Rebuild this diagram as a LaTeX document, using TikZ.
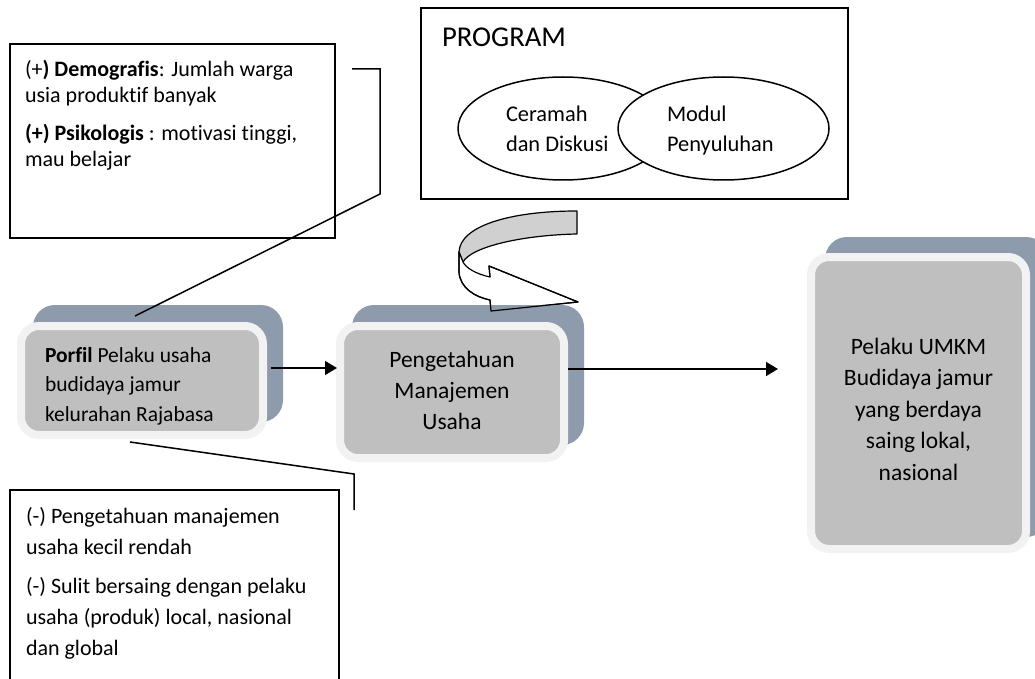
\documentclass[tikz,border=0pt]{standalone}
\usepackage{fontspec}
\setmainfont{Carlito}[Ligatures=NoCommon]
\usetikzlibrary{arrows.meta,calc,shapes.geometric}
\definecolor{slate}{RGB}{142,155,172}
\definecolor{boxgray}{RGB}{191,191,191}
\definecolor{rim}{RGB}{242,242,242}
\definecolor{arrowgray}{RGB}{208,208,208}
\begin{document}
\begin{tikzpicture}[x=1pt,y=-1pt,
  frontbox/.style={rectangle, draw=rim, fill=boxgray, line width=8pt, rounded corners=18pt, inner sep=0pt, outer sep=0pt},
  backbox/.style={rectangle, fill=slate, rounded corners=22pt, inner sep=0pt, outer sep=0pt},
  textframe/.style={rectangle, draw=black, line width=1.5pt, inner sep=0pt, outer sep=0pt},
  link/.style={draw=black, line width=1.5pt},
  arr/.style={link, -{Triangle[length=12pt,width=14pt]}},
  oval/.style={ellipse, draw=black, line width=1.5pt, fill=white, inner sep=0pt, outer sep=0pt},
  txt/.style={inner sep=0pt, outer sep=0pt},
  uturn/.style={line width=1.2pt, line join=round},
]
\useasboundingbox (0,0) rectangle (1035,679);
\fill[white] (0,0) rectangle (1035,679);

% program frame
\node[textframe, minimum width=427pt, minimum height=191pt] (program) at (634.5,103.5) {};
\node[txt, anchor=base west, font=\fontsize{28.7}{34}\selectfont] (programtitle) at (442,47) {PROGRAM};
\node[oval, minimum width=210pt, minimum height=103pt] (ceramah) at (563,128.5) {};
\node[oval, minimum width=211pt, minimum height=103pt] (modul) at (723.5,128.5) {};
\node[txt, anchor=base west, align=left, font=\fontsize{22.4}{30}\selectfont] (ceramahtext) at (506,152) {Ceramah\\dan Diskusi};
\node[txt, anchor=base west, align=left, font=\fontsize{22.4}{30}\selectfont] (modultext) at (667,152) {Modul\\Penyuluhan};

% u-turn arrow (first pass, filled)
\draw[uturn, fill=arrowgray] (577,211) -- (577,234) .. controls (525,235) and (472,246) .. (463,262) -- (459,252) .. controls (460,226) and (510,211) .. (577,211) -- cycle;
\draw[uturn, fill=white] (459,252) -- (459,272) .. controls (460,288) and (475,297) .. (490,300) -- (491,311) -- (578,302) -- (489,266) -- (490,277) .. controls (476,274) and (466,268) .. (463,262) -- cycle;

% text frames
\node[textframe, minimum width=325pt, minimum height=194pt] (plus) at (172.5,141) {};
\node[txt, anchor=base west, align=left, font=\fontsize{22}{26}\selectfont] (plustext) at (25,167)
  {(+\textbf{) Demografis}: Jumlah warga\\usia produktif banyak\\[12pt]\textbf{(+) Psikologis} : motivasi tinggi,\\mau belajar};
\node[textframe, minimum width=329pt, minimum height=210pt] (minus) at (174.5,595) {};
\node[txt, anchor=base west, align=left, font=\fontsize{22}{31}\selectfont] (minustext) at (26,655)
  {(-) Pengetahuan manajemen\\usaha kecil rendah\\[8pt](-) Sulit bersaing dengan pelaku\\usaha (produk) local, nasional\\dan global};

% stacked boxes
\node[backbox, minimum width=250pt, minimum height=117pt] (porfilback) at (158,363.5) {};
\node[frontbox, minimum width=242pt, minimum height=109pt] (porfil) at (142,380.5) {};
\node[txt, anchor=base west, align=left, font=\fontsize{21.5}{29.5}\selectfont] (porfiltext) at (45,421)
  {\textbf{Porfil} Pelaku usaha\\budidaya jamur\\kelurahan Rajabasa};

\node[backbox, minimum width=232pt, minimum height=140pt] (pengback) at (468,375) {};
\node[frontbox, minimum width=224pt, minimum height=132pt] (peng) at (452,392) {};
\node[txt, anchor=base, align=center, font=\fontsize{23.5}{31}\selectfont] (pengtext) at (452,429)
  {Pengetahuan\\Manajemen\\Usaha};

\node[backbox, minimum width=223pt, minimum height=300pt] (resultback) at (936.5,387) {};
\node[frontbox, minimum width=215pt, minimum height=292pt] (result) at (918.5,403) {};
\node[txt, anchor=base, align=center, font=\fontsize{23.5}{31.5}\selectfont] (resulttext) at (918.5,480)
  {Pelaku UMKM\\Budidaya jamur\\yang berdaya\\saing lokal,\\nasional};

% u-turn arrow outline over the box
\draw[uturn] (459,252) -- (459,272) .. controls (460,288) and (475,297) .. (490,300) -- (491,311) -- (578,302) -- (489,266) -- (490,277);

% connectors
\draw[arr] ($(porfil.east)+(8,-12.5)$) -- ($(peng.west)+(-3,-24)$);
\draw[arr] ($(peng.east)+(4,-23)$) -- ($(result.west)+(-33,-34)$);
\draw[link] ($(plus.north east)+(17,25)$) -- ++(28,0) -- ++(0,125) -- ($(porfilback.north)+(-23,11)$);
\draw[link] ($(porfil.south)+(-12,7)$) -- ($(minus.north east)+(15,-16)$) -- ++(0,36);
\end{tikzpicture}
\end{document}
